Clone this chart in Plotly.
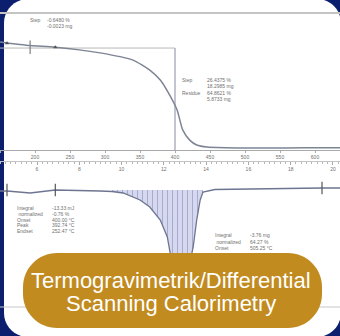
import plotly.graph_objects as go

W, H = 340, 336

# ---------------- data ----------------
tga_temp = [150, 193, 229, 293, 340, 364, 379, 390, 403, 411, 421, 431, 446, 489, 560, 611, 636]
tga_mass = [100, 98.8, 98.3, 96.4, 94.0, 90.7, 87.4, 83.4, 77.5, 70.9, 67.5, 65.9, 65.2, 64.9, 64.9, 65.0, 65.0]

dsc_temp = [150, 160, 193, 229, 293, 310, 326, 350, 364, 379, 389, 393, 400, 407, 419, 426, 431, 436, 440, 457, 493, 550, 610, 636]
dsc_heat = [-0.1, -0.1, -0.3, 0.0, -0.1, -0.15, -0.3, -1.0, -1.7, -3.0, -4.7, -6.3, -9.0, -10.0, -8.0, -5.7, -3.0, -1.0, -0.2, 0.05, 0.1, 0.15, 0.2, 0.2]
peak_start, peak_end = 310, 440

temp_ticks = [150, 200, 250, 300, 350, 400, 450, 500, 550, 600]
time_ticks = [6, 8, 10, 12, 14, 16, 18, 20]

tga_markers_T = [160, 229]
step_T = [193, 400]
dsc_markers_T = [160, 229, 610]

label_line1 = "Termogravimetrik/Differential"
label_line2 = "Scanning Calorimetry"

# -------------- helpers (pixel -> paper) --------------
def px(x):
    return x / W

def py(y):
    return 1 - y / H

NAVY = "#0c1f6f"
GOLD = "#c18b1f"
CURVE = "#7d8594"
GRID = "#a9a9a9"
TXT = "#707070"

# temperature axis mapping: 35 px per 50 degC, 350 degC at px 140
T0 = 350 - 140 / 0.7
T1 = T0 + W / 0.7
# TGA y mapping: 100 % at px 42, 3.02 px per %
m_top = 100 + (42 - 13) / 3.02
m_bot = 100 - (150 - 42) / 3.02
# DSC y mapping: 0 at px 190, 10 px per unit
d_top = (190 - 175) / 10
d_bot = (190 - H) / 10

fig = go.Figure()

# TGA curve
fig.add_trace(go.Scatter(x=tga_temp, y=tga_mass, mode="lines",
                         line=dict(color=CURVE, width=1.5, shape="spline", smoothing=0.6),
                         xaxis="x", yaxis="y", hoverinfo="skip"))
fig.add_trace(go.Scatter(x=tga_markers_T, y=[99.6, 98.3], mode="markers",
                         marker=dict(symbol="triangle-up", size=4, color="#555"),
                         xaxis="x", yaxis="y", hoverinfo="skip"))

# DSC hatched peak
i0 = dsc_temp.index(peak_start)
i1 = dsc_temp.index(peak_end)
fig.add_trace(go.Scatter(x=dsc_temp[i0:i1 + 1], y=dsc_heat[i0:i1 + 1], mode="lines",
                         line=dict(width=0), fill="tozeroy",
                         fillcolor="#cdd1ec",
                         fillpattern=dict(shape="|", size=5, solidity=0.2,
                                          fgcolor="#7a80ad", bgcolor="#d5d8ef"),
                         xaxis="x", yaxis="y2", hoverinfo="skip"))
fig.add_trace(go.Scatter(x=dsc_temp, y=dsc_heat, mode="lines",
                         line=dict(color="#6e7590", width=1.3),
                         xaxis="x", yaxis="y2", hoverinfo="skip"))
fig.add_trace(go.Scatter(x=dsc_markers_T, y=[0, 0, 0.2], mode="markers",
                         marker=dict(symbol="line-ns", size=9, line=dict(width=1.2, color="#555")),
                         xaxis="x", yaxis="y2", hoverinfo="skip"))
# invisible trace for the time axis
fig.add_trace(go.Scatter(x=[time_ticks[0], time_ticks[-1]], y=[100, 100], mode="markers",
                         marker=dict(opacity=0), xaxis="x2", yaxis="y", hoverinfo="skip"))

shapes = []
# white rounded panel
r = 24
k = 0.45
x0, x1, y0, y1 = 4, 341, -1, 337
def P(x, y):
    return f"{px(x):.5f},{py(y):.5f}"
path = (f"M {P(x0 + r, y0)} L {P(x1 - r, y0)} C {P(x1 - r * k, y0)} {P(x1, y0 + r * k)} {P(x1, y0 + r)} "
        f"L {P(x1, y1 - r)} C {P(x1, y1 - r * k)} {P(x1 - r * k, y1)} {P(x1 - r, y1)} "
        f"L {P(x0 + r, y1)} C {P(x0 + r * k, y1)} {P(x0, y1 - r * k)} {P(x0, y1 - r)} "
        f"L {P(x0, y0 + r)} C {P(x0, y0 + r * k)} {P(x0 + r * k, y0)} {P(x0 + r, y0)} Z")
shapes.append(dict(type="path", xref="paper", yref="paper", path=path,
                   fillcolor="white", line=dict(width=0), layer="below"))
# top border of TGA frame
shapes.append(dict(type="line", xref="paper", yref="paper", x0=0, x1=1, y0=py(13), y1=py(13),
                   line=dict(color="#c4c4c4", width=2), layer="below"))
# step bracket
shapes.append(dict(type="line", xref="paper", yref="y", x0=0, x1=px(175), y0=98.0, y1=98.0,
                   line=dict(color="#b8b8b8", width=1), layer="below"))
shapes.append(dict(type="line", xref="x", yref="y", x0=step_T[1], x1=step_T[1], y0=98.0, y1=m_bot,
                   line=dict(color="#9a9fb0", width=1.2), layer="below"))
shapes.append(dict(type="line", xref="x", yref="y", x0=step_T[0], x1=step_T[0], y0=96.0, y1=100.5,
                   line=dict(color="#666", width=1), layer="below"))
# faint lower axis line
shapes.append(dict(type="line", xref="paper", yref="paper", x0=0, x1=1, y0=py(307), y1=py(307),
                   line=dict(color="#c8c8c8", width=1), layer="below"))
# gold label pill
lx0, lx1, ly0, ly1, lr = 23, 322, 253, 328, 34
lk = 0.45
lpath = (f"M {P(lx0 + lr, ly0)} L {P(lx1 - lr, ly0)} C {P(lx1 - lr * lk, ly0)} {P(lx1, ly0 + lr * lk)} {P(lx1, ly0 + lr)} "
         f"L {P(lx1, ly1 - lr)} C {P(lx1, ly1 - lr * lk)} {P(lx1 - lr * lk, ly1)} {P(lx1 - lr, ly1)} "
         f"L {P(lx0 + lr, ly1)} C {P(lx0 + lr * lk, ly1)} {P(lx0, ly1 - lr * lk)} {P(lx0, ly1 - lr)} "
         f"L {P(lx0, ly0 + lr)} C {P(lx0, ly0 + lr * lk)} {P(lx0 + lr * lk, ly0)} {P(lx0 + lr, ly0)} Z")
shapes.append(dict(type="path", xref="paper", yref="paper", path=lpath,
                   fillcolor=GOLD, line=dict(width=0), layer="above"))

annotations = []
def note(x, y, text, size=5, color=TXT, anchor="left"):
    annotations.append(dict(x=px(x), y=py(y), xref="paper", yref="paper", text=text,
                            showarrow=False, xanchor=anchor, yanchor="middle",
                            font=dict(size=size, color=color, family="Arial, Liberation Sans")))

note(28, 20, "Step")
note(45, 20, "-0.6480 %")
note(45, 26, "-0.0023 mg")
note(180, 80, "Step")
note(205, 80, "26.4375 %")
note(205, 86, "18.2985 mg")
note(180, 93, "Residue")
note(205, 93, "64.8621 %")
note(205, 99, "5.8733 mg")

for i, (lab, val) in enumerate([("Integral", "-13.33 mJ"), (" normalized", "-0.76 %"),
                                ("Onset", "400.00 °C"), ("Peak", "392.74 °C"), ("Endset", "252.47 °C")]):
    note(15, 208 + 5.8 * i, lab)
    note(50, 208 + 5.8 * i, val)
for i, (lab, val) in enumerate([("Integral", "-3.76 mg"), (" normalized", "64.27 %"),
                                ("Onset", "505.25 °C")]):
    note(213, 235 + 6.5 * i, lab)
    note(248, 235 + 6.5 * i, val)

# gold label text
annotations.append(dict(x=px(171), y=py(280), xref="paper", yref="paper", text=label_line1,
                        showarrow=False, xanchor="center", yanchor="middle",
                        font=dict(size=22, color="white", family="Arial, Liberation Sans")))
annotations.append(dict(x=px(171), y=py(303), xref="paper", yref="paper", text=label_line2,
                        showarrow=False, xanchor="center", yanchor="middle",
                        font=dict(size=22, color="white", family="Arial, Liberation Sans")))

fig.update_layout(
    width=W, height=H, margin=dict(l=0, r=0, t=0, b=0),
    paper_bgcolor=NAVY, plot_bgcolor="rgba(0,0,0,0)",
    showlegend=False, shapes=shapes, annotations=annotations,
    xaxis=dict(domain=[0, 1], range=[T0, T1], anchor="y", showgrid=False, zeroline=False,
               showline=True, linecolor=GRID, linewidth=1,
               tickvals=temp_ticks, ticks="outside", ticklen=2, tickcolor=GRID,
               tickfont=dict(size=5, color=TXT, family="Arial, Liberation Sans")),
    xaxis2=dict(overlaying="x", anchor="free", position=py(161), side="bottom",
                range=[6 - 37 / 21.14, 6 + (W - 37) / 21.14], showgrid=False, zeroline=False,
                showline=True, linecolor="#c4c4c4", linewidth=1,
                tickvals=time_ticks, ticks="outside", ticklen=3, tickcolor=GRID,
                minor=dict(dtick=0.25, ticks="outside", ticklen=2, tickcolor="#b5b5b5", showgrid=False),
                tickfont=dict(size=5, color=TXT, family="Arial, Liberation Sans")),
    yaxis=dict(domain=[py(150), py(13)], range=[m_bot, m_top], visible=False),
    yaxis2=dict(domain=[0, py(175)], range=[d_bot, d_top], anchor="x", visible=False),
)

fig.write_html("out.html", config={"displayModeBar": False},
               post_script="document.body.style.margin='0px';document.body.style.overflow='hidden';")
